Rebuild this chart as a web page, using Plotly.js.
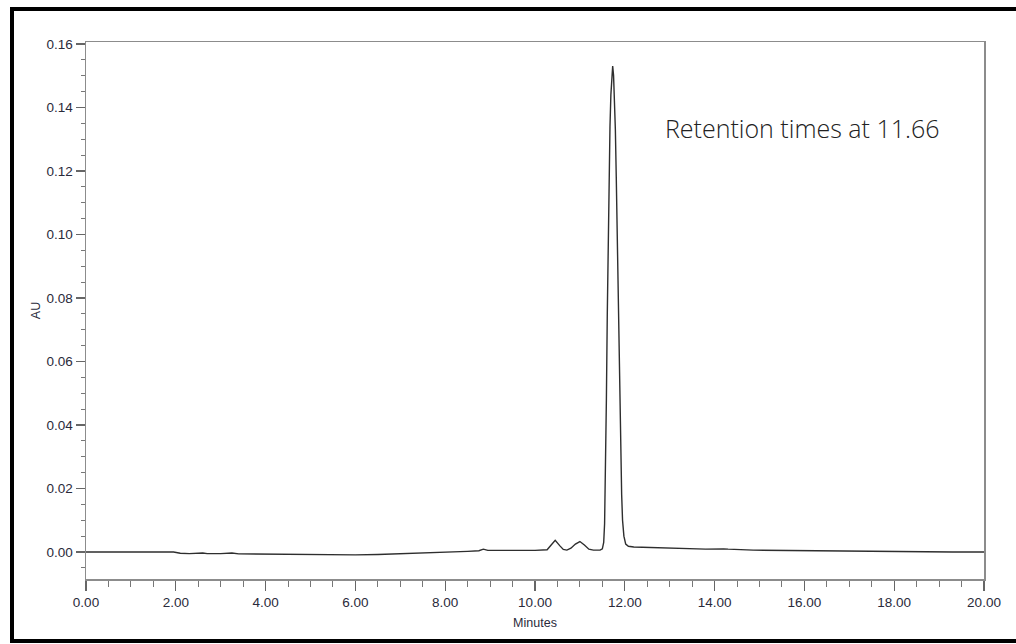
<!DOCTYPE html>
<html>
<head>
<meta charset="utf-8">
<script src="https://cdn.plot.ly/plotly-3.0.1.min.js"></script>
<style>
  html, body { margin: 0; padding: 0; background: #fff; }
  #wrap { position: relative; width: 1016px; height: 644px; overflow: hidden; }
  #chart { position: absolute; left: 0; top: 0; width: 1016px; height: 644px; }
  #frame { position: absolute; left: 10px; top: 7px; width: 1040px; height: 636px;
           box-sizing: border-box; border: 4px solid #000; pointer-events: none; }
</style>
</head>
<body>
<div id="wrap">
  <div id="chart"></div>
  <div id="frame"></div>
</div>
<script>
// Retention time (minutes)
const minutes = [
  0.00, 0.50, 1.00, 1.50, 1.95, 2.10, 2.30, 2.60, 2.70, 3.00, 3.25, 3.40,
  4.00, 4.70, 5.50, 6.00, 6.50, 7.00, 7.50, 8.00, 8.50, 8.75, 8.85, 8.95,
  9.30, 9.70, 10.00, 10.20, 10.27, 10.36, 10.45, 10.55, 10.63, 10.71,
  10.80, 10.90, 11.00, 11.10, 11.20, 11.30, 11.40, 11.45, 11.50, 11.53,
  11.55, 11.57, 11.59, 11.61, 11.63, 11.65, 11.67, 11.69, 11.71, 11.73,
  11.75, 11.77, 11.79, 11.81, 11.83, 11.85, 11.87, 11.89, 11.91, 11.93,
  11.95, 11.98, 12.02, 12.08, 12.20, 12.63, 13.20, 13.80, 14.20, 14.30,
  14.86, 15.50, 16.20, 17.08, 17.80, 18.57, 19.30, 20.00
];
// Absorbance (AU)
const au = [
  0.0000, 0.0000, -0.0001, -0.0001, 0.0000, -0.0004, -0.0005, -0.0003, -0.0005, -0.0005, -0.0003, -0.0006,
  -0.0007, -0.0009, -0.0010, -0.0009, -0.0008, -0.0006, -0.0004, -0.0001, 0.0002, 0.0004, 0.0009, 0.0005,
  0.0004, 0.0005, 0.0005, 0.0006, 0.0007, 0.0022, 0.0037, 0.0020, 0.0008, 0.0006,
  0.0012, 0.0025, 0.0033, 0.0022, 0.0009, 0.0006, 0.0005, 0.0006, 0.0010, 0.0030,
  0.0090, 0.0250, 0.0480, 0.0750, 0.1000, 0.1200, 0.1340, 0.1440, 0.1510, 0.1530,
  0.1500, 0.1430, 0.1330, 0.1180, 0.1000, 0.0820, 0.0620, 0.0450, 0.0300, 0.0180,
  0.0100, 0.0050, 0.0025, 0.0018, 0.0016, 0.0014, 0.0011, 0.0009, 0.0010, 0.0009,
  0.0006, 0.0005, 0.0004, 0.0003, 0.0001, -0.0001, 0.0000, 0.0000
];
const annotationText = "Retention times at 11.66";

const trace = {
  x: minutes, y: au, type: 'scatter', mode: 'lines',
  line: { color: '#2e2e2e', width: 1.4 },
  hoverinfo: 'x+y'
};

const axisFont = { family: 'Liberation Sans, Arial, sans-serif', size: 13.5, color: '#2a2a3a' };
const titleFont = { family: 'Liberation Sans, Arial, sans-serif', size: 12.5, color: '#2a2a3a' };

const layout = {
  width: 1016, height: 644,
  margin: { l: 86, r: 32, t: 42, b: 65 },
  paper_bgcolor: '#ffffff', plot_bgcolor: '#ffffff',
  showlegend: false,
  xaxis: {
    range: [0, 20], dtick: 2, tick0: 0, tickformat: '.2f',
    ticks: 'outside', ticklen: 10, tickwidth: 1.2, tickcolor: '#666',
    minor: { dtick: 0.5, ticks: 'outside', ticklen: 6, tickwidth: 1, tickcolor: '#777' },
    showline: true, linecolor: '#8c8c8c', linewidth: 1.5, mirror: true,
    showgrid: false, zeroline: false,
    tickfont: axisFont,
    title: { text: 'Minutes', font: titleFont, standoff: 9 }
  },
  yaxis: {
    range: [-0.0085, 0.1606], dtick: 0.02, tick0: 0, tickformat: '.2f',
    ticks: 'outside', ticklen: 9, tickwidth: 1.2, tickcolor: '#666',
    minor: { dtick: 0.005, ticks: 'outside', ticklen: 4, tickwidth: 1, tickcolor: '#777' },
    showline: true, linecolor: '#8c8c8c', linewidth: 1.5, mirror: true,
    showgrid: false, zeroline: false,
    tickfont: axisFont,
    title: { text: 'AU', font: titleFont, standoff: 3 }
  },
  annotations: [{
    x: 15.94, y: 0.1335, xref: 'x', yref: 'y',
    text: annotationText, showarrow: false,
    font: { family: 'Open Sans, Noto Sans, sans-serif', size: 25, color: '#222', weight: 300 },
    xanchor: 'center', yanchor: 'middle'
  }]
};

Plotly.newPlot('chart', [trace], layout, { displayModeBar: false, staticPlot: true });
</script>
</body>
</html>
